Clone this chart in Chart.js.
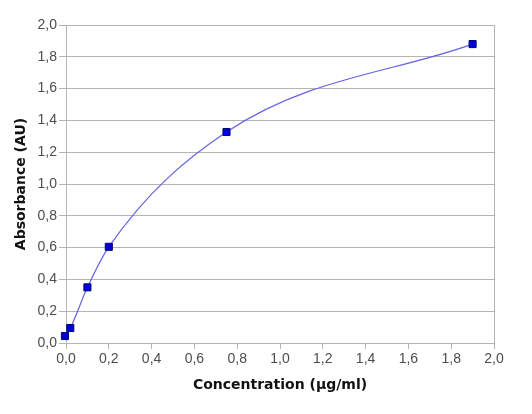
<!DOCTYPE html>
<html><head><meta charset="utf-8">
<script src="https://cdn.jsdelivr.net/npm/chart.js@4"></script>
<style>html,body{margin:0;padding:0;background:#fff;}canvas{display:block;}</style>
</head><body>
<canvas id="c" width="532" height="414"></canvas>
<script>
const concentrations = [-0.005, 0.02, 0.1, 0.2, 0.75, 1.9];
const absorbances = [0.044, 0.094, 0.35, 0.605, 1.327, 1.88];
const xTitle = 'Concentration (µg/ml)';
const yTitle = 'Absorbance (AU)';
const points = concentrations.map((c, i) => ({x: c, y: absorbances[i]}));
const fmt = v => v.toFixed(1).replace('.', ',');
const gridColor = '#b4b4b4';
const rightBorder = {
  id: 'rightBorder',
  afterDraw(chart) {
    const {ctx, chartArea: a} = chart;
    ctx.save();
    ctx.strokeStyle = gridColor; ctx.lineWidth = 1;
    ctx.beginPath(); ctx.moveTo(Math.round(a.right) + 0.5, a.top); ctx.lineTo(Math.round(a.right) + 0.5, a.bottom); ctx.stroke();
    ctx.restore();
  }
};
new Chart(document.getElementById('c'), {
  type: 'scatter',
  data: {datasets: [{
    data: points,
    showLine: true,
    cubicInterpolationMode: 'monotone',
    borderColor: '#6262e6',
    borderWidth: 1.2,
    pointStyle: 'rect',
    pointRadius: 5,
    pointBackgroundColor: '#0000d8',
    pointBorderColor: '#000070',
    pointBorderWidth: 1,
    clip: false
  }]},
  options: {
    responsive: false,
    animation: false,
    layout: {padding: {top: 25, right: 38, bottom: 0, left: 0}},
    plugins: {legend: {display: false}, tooltip: {enabled: false}},
    scales: {
      x: {
        type: 'linear', min: 0, max: 2,
        afterFit(s) { s.height = 71; },
        ticks: {stepSize: 0.2, callback: fmt, color: '#4d4d4d', padding: 2, font: {family: 'Liberation Sans', size: 14}, maxRotation: 0},
        grid: {drawOnChartArea: false, drawTicks: true, tickLength: 6, color: gridColor},
        border: {color: gridColor},
        title: {display: true, text: xTitle, color: '#111', font: {family: 'DejaVu Sans', size: 14, weight: 'bold'}, padding: {top: 0, bottom: 20}}
      },
      y: {
        type: 'linear', min: 0, max: 2,
        afterFit(s) { s.width = 66; },
        ticks: {stepSize: 0.2, callback: fmt, color: '#4d4d4d', padding: 2, font: {family: 'Liberation Sans', size: 14}},
        grid: {color: gridColor, tickLength: 7},
        border: {color: gridColor},
        title: {display: true, text: yTitle, color: '#111', font: {family: 'DejaVu Sans', size: 14, weight: 'bold'}, padding: {top: 13, bottom: 0}}
      }
    }
  },
  plugins: [rightBorder]
});
</script>
</body></html>
